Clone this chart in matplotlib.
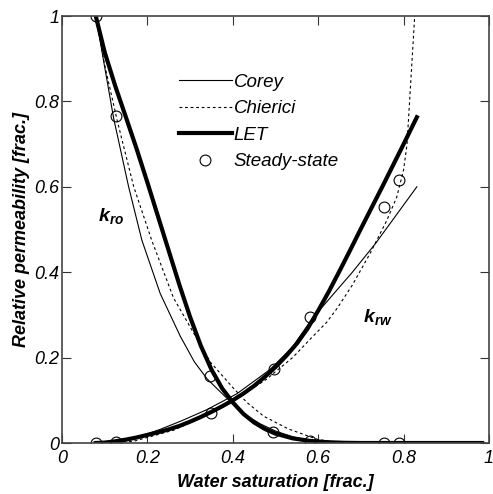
import numpy as np
import matplotlib
matplotlib.use("Agg")
import matplotlib.pyplot as plt

plt.rcParams['font.family'] = ['Liberation Sans', 'DejaVu Sans']
plt.rcParams['mathtext.fontset'] = 'custom'
plt.rcParams['mathtext.bf'] = 'Liberation Sans:bold:italic'

# --- Data ---
# steady-state measurements
ss_sw = [0.079, 0.127, 0.347, 0.495, 0.580, 0.755, 0.790]
ss_kro = [1.000, 0.766, 0.156, 0.026, 0.005, 0.000, 0.000]
ss_sw_w = [0.079, 0.127, 0.348, 0.497, 0.580, 0.755, 0.790]
ss_krw = [0.000, 0.003, 0.071, 0.174, 0.294, 0.553, 0.615]

# Corey
corey_sw_o = [0.079, 0.100, 0.121, 0.156, 0.187, 0.230, 0.277, 0.310, 0.340, 0.386,
              0.420, 0.464, 0.500, 0.542, 0.580, 0.620, 0.660]
corey_kro = [1.000, 0.880, 0.760, 0.600, 0.475, 0.350, 0.250, 0.190, 0.150, 0.105,
             0.072, 0.045, 0.028, 0.014, 0.006, 0.002, 0.000]
corey_sw_w = [0.079, 0.120, 0.160, 0.198, 0.230, 0.280, 0.339, 0.409, 0.487, 0.540,
              0.585, 0.628, 0.680, 0.734, 0.780, 0.831]
corey_krw = [0.000, 0.004, 0.011, 0.021, 0.032, 0.052, 0.078, 0.115, 0.172, 0.225,
             0.290, 0.340, 0.400, 0.467, 0.530, 0.600]

# Chierici
chier_sw_o = [0.079, 0.100, 0.129, 0.168, 0.210, 0.261, 0.300, 0.347, 0.400, 0.433,
              0.472, 0.530, 0.600, 0.650, 0.680]
chier_kro = [1.000, 0.885, 0.756, 0.600, 0.475, 0.340, 0.272, 0.190, 0.130, 0.095,
             0.063, 0.033, 0.008, 0.001, 0.000]
chier_sw_w = [0.079, 0.120, 0.167, 0.261, 0.350, 0.400, 0.480, 0.495, 0.540, 0.581,
              0.620, 0.644, 0.680, 0.722, 0.760, 0.784, 0.800, 0.808, 0.814, 0.820, 0.826]
chier_krw = [0.000, 0.001, 0.004, 0.030, 0.070, 0.098, 0.150, 0.163, 0.200, 0.243,
             0.283, 0.315, 0.370, 0.445, 0.520, 0.576, 0.640, 0.700, 0.800, 0.900, 1.000]

# LET
let_sw_o = [0.079, 0.100, 0.125, 0.150, 0.175, 0.200, 0.225, 0.250, 0.275, 0.300,
            0.325, 0.350, 0.375, 0.400, 0.425, 0.450, 0.475, 0.500, 0.540, 0.580,
            0.620, 0.660, 0.700, 0.984]
let_kro = [1.000, 0.915, 0.835, 0.762, 0.688, 0.610, 0.530, 0.450, 0.370, 0.295,
           0.228, 0.172, 0.128, 0.095, 0.068, 0.048, 0.033, 0.022, 0.011, 0.005,
           0.002, 0.0005, 0.000, 0.000]
let_sw_w = [0.079, 0.100, 0.125, 0.150, 0.175, 0.200, 0.225, 0.250, 0.275, 0.300,
            0.325, 0.350, 0.375, 0.400, 0.425, 0.450, 0.475, 0.500, 0.525, 0.550,
            0.575, 0.600, 0.625, 0.650, 0.675, 0.700, 0.725, 0.750, 0.775, 0.800, 0.831]
let_krw = [0.000, 0.001, 0.004, 0.008, 0.013, 0.019, 0.025, 0.032, 0.040, 0.050,
           0.061, 0.073, 0.086, 0.100, 0.116, 0.134, 0.155, 0.178, 0.204, 0.233,
           0.268, 0.310, 0.355, 0.403, 0.452, 0.502, 0.551, 0.600, 0.650, 0.700, 0.763]

ticks = [0, 0.2, 0.4, 0.6, 0.8, 1]
tick_labels = ['0', '0.2', '0.4', '0.6', '0.8', '1']

# --- Figure ---
fig = plt.figure(figsize=(4.93, 4.94), dpi=100)
ax = fig.add_axes([0.1258, 0.1032, 0.8661, 0.8644])

ax.plot(corey_sw_o, corey_kro, color='black', lw=0.8, label='Corey')
ax.plot(corey_sw_w, corey_krw, color='black', lw=0.8)
ax.plot(chier_sw_o, chier_kro, color='black', lw=0.8, ls=(0, (2.5, 2.5)), label='Chierici')
ax.plot(chier_sw_w, chier_krw, color='black', lw=0.8, ls=(0, (2.5, 2.5)))
ax.plot(let_sw_o, let_kro, color='black', lw=3.0, label='LET')
ax.plot(let_sw_w, let_krw, color='black', lw=3.0)
ax.plot(ss_sw, ss_kro, 'o', ms=7.8, mfc='none', mec='black', mew=0.8, label='Steady-state')
ax.plot(ss_sw_w, ss_krw, 'o', ms=7.8, mfc='none', mec='black', mew=0.8)

ax.set_xlim(0, 1)
ax.set_ylim(0, 1)
ax.set_xticks(ticks)
ax.set_yticks(ticks)
ax.set_xticklabels(tick_labels, fontstyle='italic', fontsize=13)
ax.set_yticklabels(tick_labels, fontstyle='italic', fontsize=13)
ax.tick_params(direction='in', length=6.5, width=0.8, top=True, right=True,
               color='#333333')
ax.tick_params(axis='x', pad=5)
ax.tick_params(axis='y', pad=2)
for s in ax.spines.values():
    s.set_color('#444444')
    s.set_linewidth(1.2)

ax.set_xlabel('Water saturation [frac.]', fontsize=13, fontweight='bold',
              fontstyle='italic', labelpad=5)
ax.set_ylabel('Relative permeability [frac.]', fontsize=13, fontweight='bold',
              fontstyle='italic', labelpad=3)

# curve labels
ax.text(0.0844, 0.5176, r'$\mathbf{k}_{\mathbf{ro}}$', fontsize=14)
ax.text(0.706, 0.281, r'$\mathbf{k}_{\mathbf{rw}}$', fontsize=14)

ax.legend(loc='upper left', bbox_to_anchor=(0.235, 0.905), frameon=False,
          handlelength=2.8, handletextpad=0.1, labelspacing=0.5,
          prop=dict(size=13.5, style='italic'))

fig.savefig('out.png', dpi=100)
